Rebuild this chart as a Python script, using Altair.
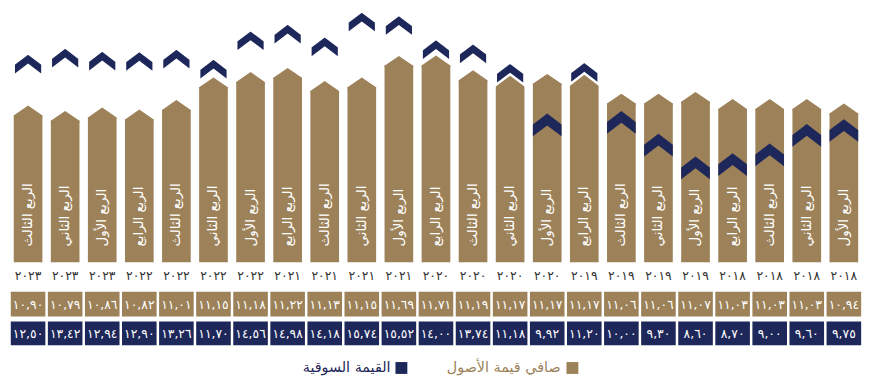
import altair as alt
import pandas as pd

# ---- data (left to right, as displayed) ----
years = [2023, 2023, 2023, 2022, 2022, 2022, 2022, 2021, 2021, 2021, 2021,
         2020, 2020, 2020, 2020, 2019, 2019, 2019, 2019, 2018, 2018, 2018, 2018]
quarters = ["الربع الثالث", "الربع الثاني", "الربع الأول",
            "الربع الرابع", "الربع الثالث", "الربع الثاني", "الربع الأول",
            "الربع الرابع", "الربع الثالث", "الربع الثاني", "الربع الأول",
            "الربع الرابع", "الربع الثالث", "الربع الثاني", "الربع الأول",
            "الربع الرابع", "الربع الثالث", "الربع الثاني", "الربع الأول",
            "الربع الرابع", "الربع الثالث", "الربع الثاني", "الربع الأول"]
nav = [10.90, 10.79, 10.86, 10.82, 11.01, 11.15, 11.18, 11.22, 11.13, 11.15, 11.69,
       11.71, 11.19, 11.17, 11.17, 11.17, 11.06, 11.06, 11.07, 11.03, 11.03, 11.03, 10.94]
mv = [12.50, 13.42, 12.94, 12.90, 13.26, 11.70, 14.56, 14.98, 14.18, 15.74, 15.52,
      14.00, 13.74, 11.18, 9.92, 11.20, 10.00, 9.30, 8.60, 8.70, 9.00, 9.60, 9.75]
legend_nav = "صافي قيمة الأصول"
legend_mv = "القيمة السوقية"

TAN = "#9c8159"
NAVY = "#1e2759"
FONT = "DejaVu Sans"

AR = str.maketrans("0123456789.", "٠١٢٣٤٥٦٧٨٩,")


def ar(s):
    return str(s).translate(AR)


df = pd.DataFrame({
    "idx": list(range(len(nav))),
    "year": [ar(y) for y in years],
    "quarter": quarters,
    "nav": nav,
    "mv": mv,
    "nav_label": [ar(f"{v:.2f}") for v in nav],
    "mv_label": [ar(f"{v:.2f}") for v in mv],
    "above": [m > n for m, n in zip(mv, nav)],
})

x = alt.X("idx:Q", axis=None,
          scale=alt.Scale(domain=[-0.408, 22.41], nice=False, zero=False))

# piecewise scales: baseline 0 sits at the foot of the bars
nav_scale = alt.Scale(domain=[0, 10.79, 11.03, 11.2, 11.7], range=[255, 112, 100, 69, 56],
                      zero=False, nice=False, clamp=True)
mv_scale = alt.Scale(domain=[8.6, 10.0, 11.2, 13.5, 15.74],
                     range=[159.5, 113.5, 63.5, 48.5, 12.5],
                     zero=False, nice=False, clamp=True)

base = alt.Chart(df)

CAP = "M-1,0.1 L-1,0 L0,-0.69 L1,0 L1,0.1 Z"
CHEV = "M0,-0.79 L1,-0.03 L1,0.79 L0,0.03 L-1,0.79 L-1,-0.03 Z"

body = base.mark_bar(width=29, color=TAN).encode(
    x=x, y=alt.Y("nav:Q", scale=nav_scale, axis=None), y2=alt.Y2(datum=0))
cap = base.mark_point(shape=CAP, size=841, filled=True, color=TAN, opacity=1,
                      strokeWidth=0).encode(
    x=x, y=alt.Y("nav:Q", scale=nav_scale, axis=None))
chev = base.mark_point(shape=CHEV, size=841, filled=True, fill=NAVY, opacity=1,
                       stroke="white").encode(
    x=x, y=alt.Y("mv:Q", scale=mv_scale, axis=None),
    strokeWidth=alt.condition("datum.above", alt.value(2.5), alt.value(0)))

qtext = base.mark_text(angle=270, align="left", baseline="middle", color="white",
                       fontSize=13.5, font=FONT).encode(
    x=x, y=alt.value(239), text="quarter:N")
ytext = base.mark_text(baseline="middle", color="#333333", fontSize=12.5,
                       font=FONT).encode(x=x, y=alt.value(269), text="year:N")

navbox = base.mark_bar(width=35, color=TAN).encode(
    x=x, y=alt.value(285), y2=alt.value(310))
navtxt = base.mark_text(baseline="middle", color="white", fontSize=12.5,
                        font=FONT).encode(x=x, y=alt.value(298), text="nav_label:N")
mvbox = base.mark_bar(width=35, color=NAVY).encode(
    x=x, y=alt.value(315), y2=alt.value(339))
mvtxt = base.mark_text(baseline="middle", color="white", fontSize=12.5,
                       font=FONT).encode(x=x, y=alt.value(327.5), text="mv_label:N")

lg1 = alt.Chart(alt.Data(values=[{"t": legend_nav}]))
lg2 = alt.Chart(alt.Data(values=[{"t": legend_mv}]))
leg_sq1 = lg1.mark_square(size=144, filled=True, color=TAN, opacity=1).encode(
    x=alt.value(571), y=alt.value(362))
leg_tx1 = lg1.mark_text(align="right", baseline="middle", color=TAN, fontSize=14.5,
                        font=FONT).encode(x=alt.value(559), y=alt.value(362), text="t:N")
leg_sq2 = lg2.mark_square(size=144, filled=True, color=NAVY, opacity=1).encode(
    x=alt.value(398), y=alt.value(362))
leg_tx2 = lg2.mark_text(align="right", baseline="middle", color=NAVY, fontSize=14.5,
                        font=FONT).encode(x=alt.value(387), y=alt.value(362), text="t:N")

chart = alt.layer(
    body, cap, chev, qtext, ytext, navbox, navtxt, mvbox, mvtxt,
    leg_sq1, leg_tx1, leg_sq2, leg_tx2
).resolve_scale(y="independent").properties(
    width=866, height=374, padding=0, autosize="none", background="white"
).configure_view(stroke=None)

chart.save("out.html", embed_options={"renderer": "svg", "actions": False})
